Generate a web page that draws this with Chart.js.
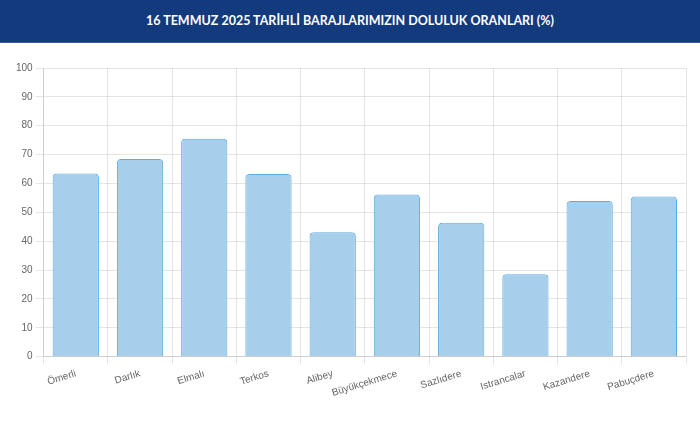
<!DOCTYPE html>
<html lang="tr">
<head>
<meta charset="utf-8">
<script src="https://cdn.jsdelivr.net/npm/chart.js@4.4.0/dist/chart.umd.min.js"></script>
<style>
    html, body { margin: 0; padding: 0; background: #fff; }
    body { width: 700px; height: 427px; position: relative; overflow: hidden; }
    .header {
        height: 42px;
        background: #143a7e;
        border-bottom: 1px solid #3a5a98;
        color: #fff;
        font-family: "Lato", sans-serif;
        font-weight: 700;
        font-size: 12.5px;
        line-height: 42px;
        text-align: center;
    }
    .chart-box { position: absolute; left: 0; top: 43px; width: 700px; height: 384px; }
</style>
</head>
<body>
<div class="header">16 TEMMUZ 2025 TARİHLİ BARAJLARIMIZIN DOLULUK ORANLARI (%)</div>
<div class="chart-box"><canvas id="damChart"></canvas></div>
<script>
// Baraj isimleri ve doluluk oranları (%)
const damNames = ['Ömerli', 'Darlık', 'Elmalı', 'Terkos', 'Alibey', 'Büyükçekmece', 'Sazlıdere', 'Istrancalar', 'Kazandere', 'Pabuçdere'];
const fillRates = [63.5, 68.5, 75.5, 63.3, 43.1, 56.2, 46.4, 28.6, 53.9, 55.5];
const yTicks = [0, 10, 20, 30, 40, 50, 60, 70, 80, 90, 100];

const tickFont = { family: '"Liberation Sans", Arial, sans-serif', size: 10 };

const canvas = document.getElementById('damChart');
canvas.chart = new Chart(canvas.getContext('2d'), {
    type: 'bar',
    data: {
        labels: damNames,
        datasets: [{
            label: 'Doluluk (%)',
            data: fillRates,
            backgroundColor: '#a6cfeb',
            borderColor: '#5fabe0',
            borderWidth: 1,
            borderRadius: 4
        }]
    },
    options: {
        responsive: true,
        maintainAspectRatio: false,
        animation: false,
        layout: { padding: { top: 25, right: 14, bottom: 25, left: 13 } },
        plugins: {
            legend: { display: false },
            tooltip: { enabled: false }
        },
        scales: {
            x: {
                ticks: { color: '#666', font: tickFont, minRotation: 17, maxRotation: 17 },
                grid: { color: 'rgba(0,0,0,0.1)' }
            },
            y: {
                min: 0,
                max: 100,
                afterBuildTicks: axis => { axis.ticks = yTicks.map(v => ({ value: v })); },
                ticks: { color: '#666', font: tickFont },
                grid: { color: 'rgba(0,0,0,0.1)' }
            }
        }
    }
});
</script>
</body>
</html>
